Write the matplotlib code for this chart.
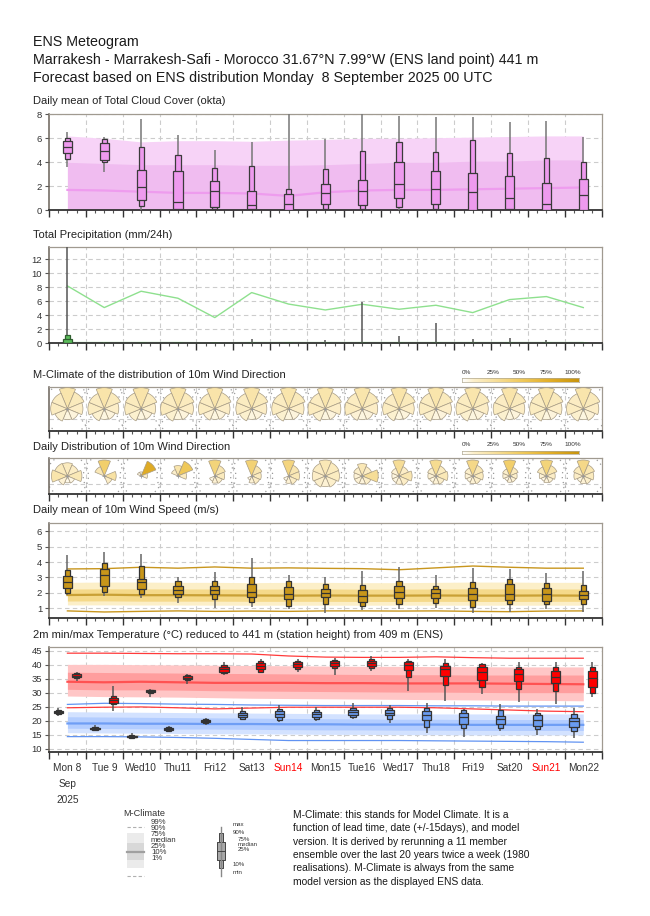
import numpy as np
import matplotlib
matplotlib.use("Agg")
import matplotlib.pyplot as plt
from matplotlib.patches import Wedge, Circle
from matplotlib.colors import LinearSegmentedColormap

plt.rcParams['font.family'] = ['Liberation Sans', 'DejaVu Sans']

W, H = 650, 916
AX_L, AX_R = 49.0, 601.7
DAYS = 15

day_labels = ["Mon 8", "Tue 9", "Wed10", "Thu11", "Fri12", "Sat13", "Sun14", "Mon15",
              "Tue16", "Wed17", "Thu18", "Fri19", "Sat20", "Sun21", "Mon22"]
sunday_labels = ["Sun14", "Sun21"]

# --- total cloud cover (okta), daily boxes at 12 UTC ---
cloud_min = [3.58, 3.17, 0.05, 0, 0, 0, 0, 0, 0, 0.05, 0, 0, 0, 0, 0]
cloud_p10 = [4.25, 4.06, 0.33, 0.0, 0.1, 0.0, 0.0, 0.1, 0.08, 0.25, 0.08, 0.0, 0.0, 0.0, 0.0]
cloud_p25 = [4.75, 4.2, 0.83, 0.08, 0.3, 0.08, 0.0, 0.56, 0.42, 1.06, 0.5, 0.0, 0.08, 0.05, 0.0]
cloud_med = [5.25, 4.94, 1.92, 0.67, 1.6, 0.42, 0.53, 1.42, 1.58, 2.2, 1.75, 1.56, 1.0, 0.53, 1.25]
cloud_p75 = [5.8, 5.64, 3.36, 3.3, 2.42, 1.6, 1.33, 2.17, 2.5, 4.06, 3.25, 3.14, 2.89, 2.3, 2.64]
cloud_p90 = [6.05, 5.94, 5.25, 4.64, 3.5, 3.67, 1.8, 3.42, 4.9, 5.72, 4.83, 5.86, 4.75, 4.39, 4.0]
cloud_max = [6.5, 6.14, 7.6, 6.28, 5.0, 5.7, 8.0, 5.94, 8.0, 7.86, 7.78, 7.8, 7.33, 7.44, 6.1]
cc_p99 = [8] * 15
cc_p90 = [6.2, 6.0, 5.7, 5.8, 5.8, 5.75, 5.85, 5.9, 6.0, 6.0, 6.05, 6.1, 6.15, 6.2, 6.2]
cc_p75 = [4.0, 3.9, 3.8, 3.8, 3.8, 3.75, 3.75, 3.8, 3.9, 4.0, 4.0, 4.1, 4.1, 4.2, 4.2]
cc_p50 = [1.7, 1.65, 1.55, 1.45, 1.45, 1.4, 1.2, 1.5, 1.65, 1.7, 1.7, 1.75, 1.8, 1.85, 1.9]
cc_p25 = [0] * 15
cc_p10 = [0] * 15

# --- total precipitation (mm/24h) ---
prec_min = [0] * 15
prec_p10 = [0] * 15
prec_p25 = [0] * 15
prec_med = [0.1, 0.02, 0, 0, 0, 0, 0, 0, 0, 0, 0, 0, 0, 0, 0]
prec_p75 = [0.55, 0.05, 0, 0, 0, 0, 0, 0, 0.02, 0, 0, 0, 0, 0, 0]
prec_p90 = [1.2, 0.1, 0, 0, 0, 0.03, 0, 0.03, 0.08, 0.05, 0.08, 0.03, 0.03, 0.02, 0]
prec_max = [20.0, 0.15, 0.0, 0.0, 0.0, 0.6, 0.0, 0.45, 5.95, 1.1, 2.9, 0.57, 0.76, 0.4, 0.0]
pc_p99 = [8.19, 5.1, 7.43, 6.43, 3.67, 7.24, 5.6, 4.76, 5.57, 4.86, 5.43, 4.38, 6.24, 6.67, 5.1]
pc_p90 = [0.3, 0.3, 0.3, 0.3, 0.25, 0.3, 0.3, 0.3, 0.3, 0.3, 0.3, 0.3, 0.3, 0.3, 0.3]

# --- wind direction frequencies: N, NE, E, SE, S, SW, W, NW ---
dir_deg = [0, 45, 90, 135, 180, 225, 270, 315]
mclim_dir = [
    [0.22, 0.16, 0.12, 0.07, 0.06, 0.09, 0.14, 0.14],
    [0.23, 0.16, 0.11, 0.07, 0.06, 0.09, 0.14, 0.14],
    [0.23, 0.15, 0.11, 0.07, 0.06, 0.09, 0.14, 0.15],
    [0.22, 0.15, 0.12, 0.07, 0.06, 0.09, 0.15, 0.14],
    [0.23, 0.16, 0.12, 0.07, 0.06, 0.08, 0.14, 0.14],
    [0.23, 0.16, 0.12, 0.07, 0.06, 0.09, 0.13, 0.14],
    [0.22, 0.16, 0.12, 0.07, 0.06, 0.09, 0.14, 0.14],
    [0.22, 0.15, 0.12, 0.07, 0.06, 0.09, 0.15, 0.14],
    [0.22, 0.16, 0.12, 0.07, 0.06, 0.08, 0.15, 0.14],
    [0.23, 0.16, 0.12, 0.07, 0.06, 0.09, 0.14, 0.13],
    [0.22, 0.16, 0.12, 0.07, 0.06, 0.09, 0.14, 0.14],
    [0.22, 0.16, 0.12, 0.07, 0.06, 0.09, 0.14, 0.14],
    [0.23, 0.16, 0.12, 0.07, 0.06, 0.09, 0.14, 0.13],
    [0.22, 0.16, 0.12, 0.07, 0.06, 0.09, 0.14, 0.14],
    [0.22, 0.16, 0.12, 0.08, 0.06, 0.09, 0.14, 0.13],
]
daily_dir = [
    [0.15, 0.12, 0.18, 0.05, 0.04, 0.08, 0.22, 0.16],
    [0.45, 0.0, 0.25, 0.12, 0.0, 0.0, 0.0, 0.18],
    [0.05, 0.78, 0.12, 0.0, 0.0, 0.0, 0.0, 0.05],
    [0.22, 0.52, 0.15, 0.0, 0.0, 0.0, 0.0, 0.1],
    [0.4, 0.2, 0.15, 0.1, 0.08, 0.05, 0.0, 0.0],
    [0.42, 0.2, 0.15, 0.12, 0.08, 0.03, 0.0, 0.0],
    [0.38, 0.2, 0.18, 0.12, 0.08, 0.04, 0.0, 0.0],
    [0.18, 0.15, 0.14, 0.1, 0.08, 0.1, 0.12, 0.13],
    [0.18, 0.12, 0.3, 0.1, 0.07, 0.08, 0.08, 0.1],
    [0.3, 0.12, 0.2, 0.12, 0.08, 0.06, 0.06, 0.08],
    [0.32, 0.15, 0.18, 0.1, 0.08, 0.06, 0.08, 0.1],
    [0.35, 0.18, 0.15, 0.1, 0.08, 0.06, 0.08, 0.1],
    [0.45, 0.15, 0.1, 0.08, 0.07, 0.05, 0.08, 0.1],
    [0.4, 0.2, 0.12, 0.08, 0.07, 0.05, 0.08, 0.15],
    [0.35, 0.2, 0.15, 0.1, 0.08, 0.06, 0.12, 0.15],
]

# --- 10m wind speed (m/s) ---
wind_min = [1.86, 1.8, 1.65, 1.32, 1.04, 1.06, 0.96, 0.72, 0.89, 0.96, 1.0, 0.72, 0.78, 0.94, 0.78]
wind_p10 = [2.01, 2.08, 1.95, 1.73, 1.6, 1.43, 1.17, 1.28, 1.17, 1.26, 1.37, 1.06, 1.28, 1.26, 1.28]
wind_p25 = [2.29, 2.44, 2.23, 1.9, 1.93, 1.71, 1.58, 1.71, 1.43, 1.69, 1.67, 1.54, 1.52, 1.5, 1.58]
wind_med = [2.72, 3.15, 2.68, 2.19, 2.19, 2.08, 1.93, 1.97, 1.82, 2.06, 1.97, 1.9, 1.9, 1.93, 1.86]
wind_p75 = [3.07, 3.52, 2.9, 2.44, 2.47, 2.55, 2.36, 2.25, 2.19, 2.44, 2.27, 2.29, 2.55, 2.34, 2.14]
wind_p90 = [3.46, 3.95, 3.76, 2.79, 2.75, 3.05, 2.75, 2.57, 2.51, 2.75, 2.47, 2.68, 2.88, 2.64, 2.51]
wind_max = [4.45, 4.62, 4.49, 3.0, 3.33, 4.23, 3.16, 3.0, 3.41, 3.69, 3.16, 3.63, 3.54, 3.26, 3.41]
wc_p99 = [3.55, 3.57, 3.66, 3.6, 3.68, 3.6, 3.62, 3.59, 3.57, 3.5, 3.62, 3.74, 3.66, 3.6, 3.6]
wc_p90 = [2.68, 2.7, 2.7, 2.68, 2.68, 2.66, 2.68, 2.68, 2.66, 2.66, 2.68, 2.7, 2.7, 2.68, 2.68]
wc_p75 = [2.25, 2.26, 2.26, 2.25, 2.25, 2.24, 2.25, 2.25, 2.24, 2.24, 2.25, 2.26, 2.26, 2.25, 2.25]
wc_p50 = [1.86, 1.88, 1.85, 1.85, 1.84, 1.83, 1.82, 1.83, 1.82, 1.82, 1.83, 1.82, 1.82, 1.83, 1.82]
wc_p25 = [1.47, 1.48, 1.46, 1.46, 1.46, 1.45, 1.45, 1.45, 1.44, 1.44, 1.45, 1.44, 1.44, 1.45, 1.45]
wc_p10 = [1.22, 1.22, 1.21, 1.21, 1.2, 1.2, 1.2, 1.2, 1.2, 1.2, 1.2, 1.2, 1.2, 1.2, 1.2]
wc_p1 = [0.83, 0.76, 0.8, 0.83, 0.8, 0.82, 0.8, 0.83, 0.83, 0.82, 0.83, 0.8, 0.78, 0.82, 0.83]

# --- 2m temperature min (06 UTC) / max (18 UTC) ---
tmin_min = [21.7, 16.4, 13.6, 16.0, 18.5, 20.2, 19.4, 19.9, 20.5, 19.3, 15.7, 14.0, 16.3, 14.9, 13.7]
tmin_p10 = [22.3, 16.7, 13.8, 16.4, 19.0, 20.5, 20.2, 20.5, 21.4, 20.5, 17.9, 17.3, 17.3, 16.9, 16.4]
tmin_p25 = [22.6, 16.9, 14.0, 16.7, 19.4, 21.2, 21.4, 21.4, 22.0, 22.0, 20.2, 18.7, 18.7, 18.1, 17.6]
tmin_med = [23.0, 17.1, 14.3, 17.0, 19.9, 22.0, 22.4, 22.4, 23.0, 22.9, 22.0, 21.2, 20.5, 20.2, 19.9]
tmin_p75 = [23.5, 17.4, 14.6, 17.4, 20.3, 22.9, 23.3, 23.2, 23.8, 23.8, 23.6, 22.6, 21.7, 22.0, 21.1]
tmin_p90 = [23.8, 17.6, 14.8, 17.6, 20.5, 23.6, 24.0, 23.8, 24.4, 24.4, 24.4, 23.8, 23.8, 22.9, 22.4]
tmin_max = [24.4, 18.6, 15.5, 18.1, 20.8, 24.8, 25.6, 24.8, 26.2, 25.6, 26.4, 24.2, 26.0, 24.2, 24.4]

tmax_min = [34.2, 23.6, 28.6, 33.1, 36.3, 36.9, 37.5, 36.3, 37.9, 30.7, 27.0, 29.5, 26.5, 25.8, 28.3]
tmax_p10 = [35.1, 26.0, 29.8, 34.5, 36.9, 37.5, 38.3, 38.7, 38.7, 35.7, 32.7, 32.1, 31.3, 30.7, 29.8]
tmax_p25 = [35.6, 26.4, 30.1, 34.9, 37.5, 38.3, 39.0, 39.5, 39.5, 38.1, 36.0, 34.5, 34.3, 33.3, 32.1]
tmax_med = [36.1, 27.4, 30.5, 35.4, 38.5, 39.4, 40.1, 40.5, 40.5, 39.9, 38.3, 37.3, 36.7, 35.5, 35.1]
tmax_p75 = [36.7, 28.2, 30.8, 35.9, 39.3, 40.5, 40.8, 41.2, 41.2, 40.8, 39.5, 39.3, 38.3, 37.9, 37.7]
tmax_p90 = [37.1, 28.8, 31.0, 36.3, 39.9, 41.2, 41.2, 41.7, 41.9, 41.4, 40.7, 40.2, 39.3, 39.3, 39.3]
tmax_max = [37.5, 32.4, 31.3, 36.7, 41.1, 41.9, 41.9, 42.3, 43.1, 41.9, 41.9, 40.5, 41.1, 41.1, 41.1]

tx_p99 = [44.1, 44.1, 44.0, 43.9, 43.9, 43.8, 43.1, 42.7, 42.6, 42.6, 42.8, 42.5, 42.3, 42.3, 42.3]
tx_p90 = [40.1, 40.1, 40.0, 39.9, 39.8, 39.7, 39.6, 39.5, 39.4, 39.4, 39.3, 39.3, 39.2, 39.2, 39.2]
tx_p75 = [37.3, 37.2, 37.1, 37.0, 36.9, 36.8, 36.7, 36.6, 36.5, 36.4, 36.4, 36.3, 36.3, 36.3, 36.3]
tx_p50 = [33.9, 33.7, 33.9, 33.7, 33.5, 33.5, 33.5, 33.4, 33.4, 33.3, 33.3, 33.3, 33.2, 33.1, 33.0]
tx_p25 = [31.2, 31.0, 31.0, 30.9, 30.7, 30.6, 30.5, 30.4, 30.3, 30.2, 30.2, 30.1, 30.0, 30.0, 30.0]
tx_p10 = [28.8, 28.6, 28.5, 28.4, 28.2, 28.0, 27.9, 27.8, 27.7, 27.6, 27.5, 27.4, 27.3, 27.2, 27.1]
tx_p1 = [24.6, 24.8, 24.9, 24.6, 24.2, 24.5, 24.8, 24.8, 24.8, 24.8, 24.6, 24.2, 23.8, 23.4, 23.2]

tn_p99 = [25.8, 26.2, 26.1, 25.9, 25.8, 25.6, 25.5, 25.4, 25.4, 25.4, 25.3, 25.3, 25.2, 25.2, 25.2]
tn_p90 = [23.2, 23.1, 23.0, 22.9, 22.8, 22.7, 22.6, 22.5, 22.4, 22.4, 22.4, 22.4, 22.4, 22.4, 22.4]
tn_p75 = [21.4, 21.3, 21.2, 21.1, 21.0, 20.9, 20.8, 20.7, 20.6, 20.5, 20.5, 20.4, 20.4, 20.4, 20.4]
tn_p50 = [19.0, 19.0, 18.9, 18.9, 18.8, 18.8, 18.7, 18.7, 18.6, 18.6, 18.6, 18.5, 18.5, 18.5, 18.5]
tn_p25 = [17.3, 17.2, 17.1, 17.0, 17.0, 16.9, 16.8, 16.7, 16.7, 16.6, 16.6, 16.5, 16.5, 16.5, 16.5]
tn_p10 = [15.7, 15.6, 15.5, 15.4, 15.3, 15.3, 15.2, 15.1, 15.1, 15.0, 15.0, 14.9, 14.9, 14.9, 14.9]
tn_p1 = [14.3, 14.3, 14.2, 14.0, 13.7, 13.3, 12.9, 12.9, 12.9, 12.9, 12.8, 12.7, 12.6, 12.5, 12.3]

note_lines = [
    "M-Climate: this stands for Model Climate. It is a",
    "function of lead time, date (+/-15days), and model",
    "version. It is derived by rerunning a 11 member",
    "ensemble over the last 20 years twice a week (1980",
    "realisations). M-Climate is always from the same",
    "model version as the displayed ENS data.",
]

days = np.arange(DAYS)
noon = days + 0.5
morning = days + 0.25
evening = days + 0.75

GRID = dict(color="#cccccc", lw=0.8, ls=(0, (4, 3)), zorder=0.5)
rose_cmap = LinearSegmentedColormap.from_list(
    "rose", [(0, "#ffffff"), (0.1, "#fcefca"), (0.25, "#f8e2a4"), (0.5, "#f0ca5e"),
             (0.75, "#e2ae28"), (1, "#c8940c")])

fig = plt.figure(figsize=(W / 100, H / 100), dpi=100)
ov = fig.add_axes([0, 0, 1, 1], zorder=-1)
ov.set_xlim(0, W)
ov.set_ylim(H, 0)
ov.axis("off")


def panel(top, bottom, yticks=None):
    ax = fig.add_axes([AX_L / W, 1 - bottom / H, (AX_R - AX_L) / W, (bottom - top) / H])
    ax.set_xlim(0, DAYS)
    ax.set_xticks(np.arange(0, DAYS + 1))
    ax.set_xticks(np.arange(0, DAYS + 0.01, 0.25), minor=True)
    ax.tick_params(axis="x", which="major", length=5, width=1, color="#333333", labelbottom=False)
    ax.tick_params(axis="x", which="minor", length=2.5, width=0.8, color="#555555")
    for d in range(1, DAYS):
        ax.axvline(d, **GRID)
    if yticks is not None:
        ax.set_yticks(yticks)
        ax.tick_params(axis="y", length=3, width=0.8, color="#555555", labelsize=6.8,
                       labelcolor="#333333", pad=2)
        for v in yticks:
            ax.axhline(v, **GRID)
    else:
        ax.set_yticks([])
    for s in ("top", "right"):
        ax.spines[s].set_color("#a09a90")
        ax.spines[s].set_linewidth(0.9)
    ax.spines["left"].set_color("#6a6258")
    ax.spines["left"].set_linewidth(1.1)
    ax.spines["bottom"].set_color("#333333")
    ax.spines["bottom"].set_linewidth(1.3)
    return ax


def boxes(ax, x, lo, p10, p25, med, p75, p90, hi, fc, ec="#333333", wc="#777777",
          ww=0.25, nw=0.14):
    x = np.asarray(x)
    ax.vlines(x, lo, hi, color=wc, lw=1.1, zorder=3)
    ax.bar(x, np.subtract(p90, p10), nw, bottom=p10, color=fc, edgecolor=ec, lw=0.9, zorder=3.1)
    ax.bar(x, np.subtract(p75, p25), ww, bottom=p25, color=fc, edgecolor=ec, lw=0.9, zorder=3.2)
    ax.hlines(med, x - ww / 2, x + ww / 2, color=ec, lw=0.9, zorder=3.3)


def climate(ax, p10, p25, p50, p75, p90, light, dark, mid, lo=None, hi=None, line=None, lw=0.9):
    ax.fill_between(noon, p10, p90, color=light, lw=0, zorder=1)
    ax.fill_between(noon, p25, p75, color=dark, lw=0, zorder=1.1)
    ax.plot(noon, p50, color=mid, lw=1.6, zorder=1.2)
    for v in (lo, hi):
        if v is not None:
            ax.plot(noon, v, color=line, lw=lw, zorder=1.3)


def roses(ax, freqs, rmax_px, ring_px):
    px = DAYS / (AX_R - AX_L)
    for d, f in enumerate(freqs):
        f = np.asarray(f)
        top = f.max()
        for k, val in enumerate(f):
            if val <= 0:
                continue
            th = 90 - dir_deg[k]
            r = rmax_px * px * np.sqrt(val / top)
            ax.add_patch(Wedge((noon[d], 0), r, th - 22.5, th + 22.5,
                               facecolor=rose_cmap(val), edgecolor="#a89c84", lw=0.5, zorder=3))
        ax.add_patch(Circle((noon[d], 0), ring_px * px, fill=False, ls=(0, (1, 3)),
                            ec="#9a9a9a", lw=0.9, zorder=2))
        ax.plot(noon[d], 0, marker="+", ms=3, color="#999999", mew=0.6, zorder=4)


def rose_axes(top, bottom):
    ax = panel(top, bottom)
    half = DAYS * (bottom - top) / (AX_R - AX_L) / 2
    ax.set_ylim(-half, half)
    ax.axhline(-half * 0.45, **GRID)
    return ax


def colorbar(top, label_y):
    cax = fig.add_axes([461.7 / W, 1 - (top + 3.5) / H, 117 / W, 3.5 / H])
    cax.imshow(np.linspace(0, 1, 256)[None, :], cmap=rose_cmap, aspect="auto")
    cax.set_xticks([])
    cax.set_yticks([])
    for s in cax.spines.values():
        s.set_color("#b0a890")
        s.set_linewidth(0.5)
    for i, lab in enumerate(["0%", "25%", "50%", "75%", "100%"]):
        ov.text(466.7 + i * 26.4, label_y, lab, fontsize=4.6, color="#333333",
                ha="center", va="center")


# header
header = ["ENS Meteogram",
          "Marrakesh - Marrakesh-Safi - Morocco 31.67\u00b0N 7.99\u00b0W (ENS land point) 441 m",
          "Forecast based on ENS distribution Monday  8 September 2025 00 UTC"]
for i, line in enumerate(header):
    ov.text(33, 42 + 18 * i, line, fontsize=10.3, color="#1a1a1a", va="center")

titles = [(101, "Daily mean of Total Cloud Cover (okta)"),
          (235, "Total Precipitation (mm/24h)"),
          (375, "M-Climate of the distribution of 10m Wind Direction"),
          (447, "Daily Distribution of 10m Wind Direction"),
          (510, "Daily mean of 10m Wind Speed (m/s)"),
          (635, "2m min/max Temperature (\u00b0C) reduced to 441 m (station height) from 409 m (ENS)")]
for y, t in titles:
    ov.text(33, y, t, fontsize=8, color="#222222", va="center")

# cloud cover
ax = panel(114.3, 210.3, yticks=[0, 2, 4, 6, 8])
ax.set_ylim(0, 8)
climate(ax, cc_p10, cc_p25, cc_p50, cc_p75, cc_p90, "#f7d3f7", "#f0bcf0", "#ee9cee",
        hi=cc_p99, line="#c48ac4", lw=1.4)
boxes(ax, noon, cloud_min, cloud_p10, cloud_p25, cloud_med, cloud_p75, cloud_p90, cloud_max,
      fc="#ee9aee", ec="#3a3a3a")

# precipitation
ax = panel(247.3, 343.3, yticks=[0, 2, 4, 6, 8, 10, 12])
ax.set_ylim(0, 13.7)
ax.fill_between(noon, 0, pc_p90, color="#cdeecd", lw=0, zorder=1)
ax.plot(noon, pc_p99, color="#8ee08e", lw=1.0, zorder=1.3)
boxes(ax, noon, prec_min, prec_p10, prec_p25, prec_med, prec_p75, prec_p90, prec_max,
      fc="#5cbd5c", ec="#2f5f2f", wc="#555555")

# wind direction roses
ax = rose_axes(386.7, 430.7)
roses(ax, mclim_dir, 21, 25)
colorbar(378.5, 372.7)

ax = rose_axes(457.7, 494.3)
roses(ax, daily_dir, 16, 21)
colorbar(450.7, 445)

# wind speed
ax = panel(522.7, 618.3, yticks=[1, 2, 3, 4, 5, 6])
ax.set_ylim(0.35, 6.55)
climate(ax, wc_p10, wc_p25, wc_p50, wc_p75, wc_p90, "#fcefc8", "#f5d98a", "#c9a035",
        lo=wc_p1, hi=wc_p99, line="#c8961e", lw=1.0)
boxes(ax, noon, wind_min, wind_p10, wind_p25, wind_med, wind_p75, wind_p90, wind_max,
      fc="#c8961a", ec="#333333", wc="#666666")

# temperature
ax = panel(647.3, 752.3, yticks=[10, 15, 20, 25, 30, 35, 40, 45])
ax.set_ylim(8.7, 46.2)
climate(ax, tn_p10, tn_p25, tn_p50, tn_p75, tn_p90, "#d3e2ff", "#b3cdff", "#6f9ef5",
        lo=tn_p1, hi=tn_p99, line="#6193f2")
climate(ax, tx_p10, tx_p25, tx_p50, tx_p75, tx_p90, "#ffc6c6", "#ff9e9e", "#ff5252",
        lo=tx_p1, hi=tx_p99, line="#ff3a3a")
boxes(ax, morning, tmin_min, tmin_p10, tmin_p25, tmin_med, tmin_p75, tmin_p90, tmin_max,
      fc="#6a9cf0", ec="#333333", wc="#555555")
boxes(ax, evening, tmax_min, tmax_p10, tmax_p25, tmax_med, tmax_p75, tmax_p90, tmax_max,
      fc="#ff0000", ec="#333333", wc="#555555")
for d, lab in enumerate(day_labels):
    ax.annotate(lab, xy=(noon[d], 0), xycoords=("data", "axes fraction"), xytext=(0, -16),
                textcoords="offset pixels", ha="center", va="center", fontsize=7.3,
                color="#ff0000" if lab in sunday_labels else "#333333")
for k, lab in enumerate(["Sep", "2025"]):
    ax.annotate(lab, xy=(noon[0], 0), xycoords=("data", "axes fraction"),
                xytext=(0, -32 - 16 * k), textcoords="offset pixels", ha="center",
                va="center", fontsize=7.3, color="#333333")

# legend: M-Climate shading
ov.text(123, 813.5, "M-Climate", fontsize=6.6, color="#333333", va="center")
ov.fill_between([126.5, 144], 833, 868, color="#ebebeb", lw=0)
ov.fill_between([126.5, 144], 842.7, 860, color="#d8d8d8", lw=0)
ov.plot([126.5, 144], [851.7, 851.7], color="#a0a0a0", lw=1.6)
for yy in (827, 876):
    ov.plot([126.5, 144], [yy, yy], color="#b0b0b0", lw=0.8, ls=(0, (3, 2)))
for yy, lab in zip([822, 828, 834, 840, 846, 852, 858],
                   ["99%", "90%", "75%", "median", "25%", "10%", "1%"]):
    ov.text(151, yy, lab, fontsize=5.6, color="#333333", va="center")

# legend: box plot
ov.plot([221, 221], [826.7, 876], color="#888888", lw=1.0)
ov.fill_between([219, 223], 833, 868, color="#a8a8a8", edgecolor="#444444", lw=0.7)
ov.fill_between([217.3, 225], 841.7, 860, color="#a8a8a8", edgecolor="#444444", lw=0.7)
ov.plot([217.3, 225], [851, 851], color="#444444", lw=0.7)
for (xx, yy), lab in zip([(233, 824), (233, 832.7), (238, 839.3), (238, 844.3), (238, 849.3),
                          (233, 864), (233, 872.7)],
                         ["max", "90%", "75%", "median", "25%", "10%", "min"]):
    ov.text(xx, yy, lab, fontsize=4.4, color="#333333", va="center")

for i, line in enumerate(note_lines):
    ov.text(293, 815 + 13.33 * i, line, fontsize=7.4, color="#1a1a1a", va="center")

fig.savefig("out.png", dpi=100, facecolor="white")
